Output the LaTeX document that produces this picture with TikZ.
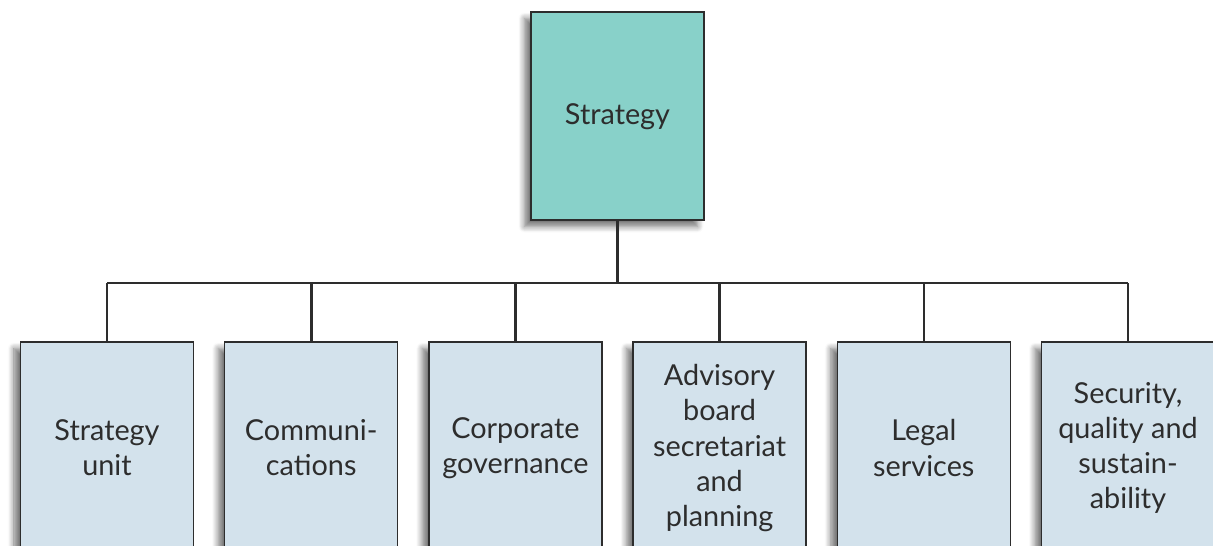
\documentclass[tikz,border=0pt]{standalone}
\usepackage{fontspec}
\setmainfont{Lato}
\usetikzlibrary{shadows.blur}
\definecolor{teal}{RGB}{136,209,201}
\definecolor{paleblue}{RGB}{211,226,236}
\definecolor{edge}{RGB}{45,45,45}

\begin{document}
\begin{tikzpicture}[
  unitbox/.style={draw=edge, line width=.8pt, fill=paleblue, minimum width=3.46cm,
    minimum height=4.24cm, align=center, inner sep=0pt,
    font=\fontsize{16.4}{20}\selectfont, text=edge,
    blur shadow={shadow xshift=-1.3mm, shadow yshift=-1.3mm, shadow blur radius=1.2mm,
      shadow blur steps=8, shadow opacity=55}},
  link/.style={draw=edge, line width=1.5pt}
]
\useasboundingbox (0,0) rectangle (24.26,-10.9);
\node [unitbox, fill=teal, minimum height=4.16cm] (strat) at (12.35,-2.32) {\raisebox{-5pt}[0pt][0pt]{Strategy}};
\coordinate (bus) at (0,-5.66);
\foreach \txt [count=\i] in {Strategy\\unit, Communi-\\cations, Corporate\\governance,
    Advisory\\board\\secretariat\\and\\planning, Legal\\services,
    {Security,\\quality and\\sustain-\\ability}}
  \node [unitbox] (unit\i) at ({2.14+4.084*(\i-1)},-8.96) {\txt};
\draw [link] (strat.south) -- (strat.south |- bus);
\draw [link] (unit1.north |- bus) -- (unit6.north |- bus);
\foreach \i in {1,...,6}
  \draw [link] (unit\i.north) -- (unit\i.north |- bus);
\end{tikzpicture}
\end{document}
